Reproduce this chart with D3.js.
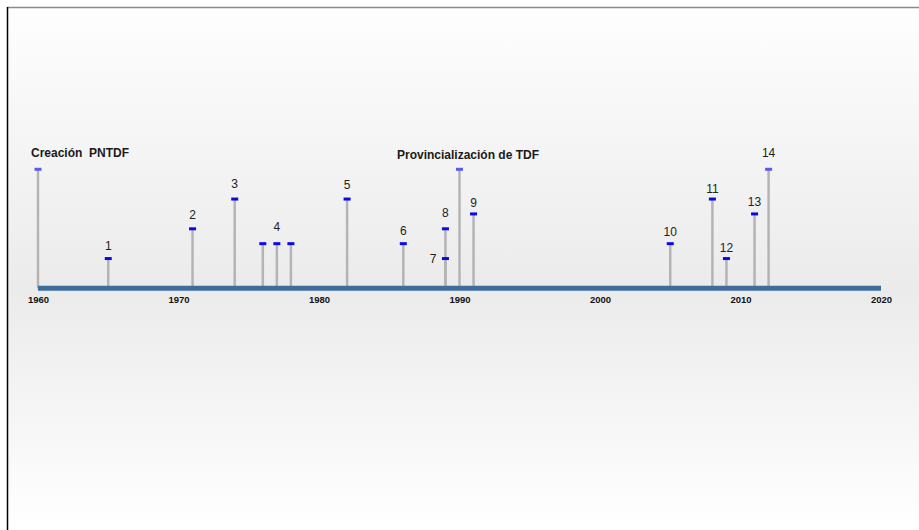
<!DOCTYPE html>
<html>
<head>
<meta charset="utf-8">
<script src="https://cdn.jsdelivr.net/npm/d3@7"></script>
<style>
  body { margin: 0; background: #fff; }
  text { font-family: "Liberation Sans", Arial, sans-serif; }
</style>
</head>
<body>
<div id="chart"></div>
<script>
// events on the timeline (1989 carries two markers: 7 and 8)
var eventYears  = [1960, 1965, 1971, 1974, 1976, 1977, 1978, 1982, 1986, 1989, 1989, 1990, 1991, 2005, 2008, 2009, 2011, 2012];
var eventLevels = [8, 2, 4, 6, 3, 3, 3, 6, 3, 2, 4, 8, 5, 3, 6, 2, 5, 8];

// numbered labels
var labelText   = ["1", "2", "3", "4", "5", "6", "7", "8", "9", "10", "11", "12", "13", "14"];
var labelYears  = [1965, 1971, 1974, 1977, 1982, 1986, 1989, 1989, 1991, 2005, 2008, 2009, 2011, 2012];
var labelLevels = [2.84, 4.93, 7.03, 4.14, 6.94, 3.87, 2, 5.08, 5.75, 3.8, 6.7, 2.76, 5.82, 9.1];

// named milestones
var titleText   = ["Creación  PNTDF", "Provincialización de TDF"];
var titleYears  = [1960, 1990];
var titleLevels = [9.1, 8.96];

var tickYears = [1960, 1970, 1980, 1990, 2000, 2010, 2020];

var svgWidth = 919;
var svgHeight = 530;

var svg = d3.select("#chart")
    .append("svg")
    .attr("width", svgWidth)
    .attr("height", svgHeight);

// background gradient
var grad = svg.append("defs").append("linearGradient")
    .attr("id", "bg")
    .attr("x1", 0).attr("y1", 0).attr("x2", 0).attr("y2", 1);
grad.append("stop").attr("offset", "0").attr("stop-color", "#fefefe");
grad.append("stop").attr("offset", "0.54").attr("stop-color", "#ebebeb");
grad.append("stop").attr("offset", "1").attr("stop-color", "#ffffff");

svg.append("rect")
    .attr("x", 7).attr("y", 7.5)
    .attr("width", svgWidth - 7).attr("height", svgHeight - 7.5)
    .attr("fill", "url(#bg)");

// frame
svg.append("line")
    .attr("x1", 7).attr("x2", svgWidth).attr("y1", 7.5).attr("y2", 7.5)
    .attr("stroke", "#8a8a8a").attr("stroke-width", 1.5);
svg.append("line")
    .attr("x1", 7.5).attr("x2", 7.5).attr("y1", 7).attr("y2", svgHeight)
    .attr("stroke", "#000").attr("stroke-width", 1.5);

// scales
var x = d3.scaleLinear().domain([1960, 2020]).range([38, 881]);
var y = d3.scaleLinear().domain([0, 8]).range([288.3, 169.3]);

// stems
svg.selectAll(".stem")
    .data(eventYears)
    .enter()
    .append("line")
    .attr("class", "stem")
    .attr("x1", d => x(d)).attr("x2", d => x(d))
    .attr("y1", y(0))
    .attr("y2", (d, i) => y(eventLevels[i]))
    .attr("stroke", "#b4b4b4")
    .attr("stroke-width", 2.5);

// axis line
svg.append("line")
    .attr("x1", x(1960)).attr("x2", x(2020))
    .attr("y1", y(0)).attr("y2", y(0))
    .attr("stroke", "#3e6d9c")
    .attr("stroke-width", 5);

// caps
svg.selectAll(".cap")
    .data(eventYears)
    .enter()
    .append("rect")
    .attr("class", "cap")
    .attr("x", d => x(d) - 3.5)
    .attr("y", (d, i) => y(eventLevels[i]) - 1.5)
    .attr("width", 7)
    .attr("height", 3)
    .attr("fill", (d, i) => eventLevels[i] == 8 ? "#5a5af0" : "#0a0ae6");

// x axis labels
var bottomAxis = d3.axisBottom(x)
    .tickValues(tickYears)
    .tickFormat(d3.format("d"))
    .tickSize(0)
    .tickPadding(8.3);
var axisG = svg.append("g")
    .attr("transform", `translate(0, ${y(0)})`)
    .call(bottomAxis);
axisG.select(".domain").remove();
axisG.selectAll("text")
    .attr("font-family", "Liberation Sans, Arial, sans-serif")
    .attr("font-size", "9.5px")
    .attr("font-weight", "bold")
    .attr("fill", "#111");

// number labels
svg.selectAll(".num")
    .data(labelText)
    .enter()
    .append("text")
    .attr("class", "num")
    .attr("x", (d, i) => d == "7" ? x(labelYears[i]) - 9 : x(labelYears[i]))
    .attr("y", (d, i) => y(labelLevels[i]) + 4.3)
    .attr("text-anchor", d => d == "7" ? "end" : "middle")
    .attr("font-size", "12px")
    .attr("fill", "#222")
    .text(d => d);

// milestone titles
svg.selectAll(".title")
    .data(titleText)
    .enter()
    .append("text")
    .attr("class", "title")
    .attr("x", (d, i) => i == 0 ? x(titleYears[i]) - 7 : x(titleYears[i]) + 8.5)
    .attr("y", (d, i) => y(titleLevels[i]) + 4.3)
    .attr("text-anchor", (d, i) => i == 0 ? "start" : "middle")
    .attr("font-size", "12px")
    .attr("font-weight", "bold")
    .attr("fill", "#1a1a1a")
    .style("white-space", "pre")
    .text(d => d);
</script>
</body>
</html>
